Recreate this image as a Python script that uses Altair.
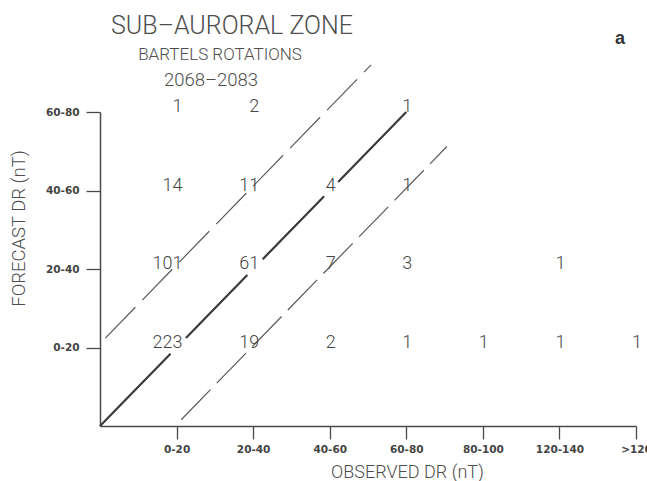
import json
import altair as alt
import pandas as pd

# ---- data ----
x_labels = ["0-20", "20-40", "40-60", "60-80", "80-100", "120-140", ">120"]
y_labels = ["0-20", "20-40", "40-60", "60-80"]

# counts: observed column index (1..7), forecast row index (1..4), count
cell_col = [1, 2, 4,
            1, 2, 3, 4,
            1, 2, 3, 4, 6,
            1, 2, 3, 4, 5, 6, 7]
cell_row = [4, 4, 4,
            3, 3, 3, 3,
            2, 2, 2, 2, 2,
            1, 1, 1, 1, 1, 1, 1]
cell_n = [1, 2, 1,
          14, 11, 4, 1,
          101, 61, 7, 3, 1,
          223, 19, 2, 1, 1, 1, 1]

# diagonal lines (in class-index units)
solid_x = [0, 4]
solid_y = [0, 4]
upper_x = [0.07, 3.54]
upper_y = [1.12, 4.60]
lower_x = [1.06, 4.53]
lower_y = [0.08, 3.56]

title_main = "SUB\u2013AURORAL ZONE"
subtitle_1 = "BARTELS ROTATIONS"
subtitle_2 = "2068\u20132083"
panel_letter = "a"

FONT = "Roboto"
INK = "#4a4a4a"
TXT = "#4d4d4d"

cells = pd.DataFrame({"col": cell_col, "row": cell_row, "n": cell_n})
solid = pd.DataFrame({"x": solid_x, "y": solid_y})
upper = pd.DataFrame({"x": upper_x, "y": upper_y})
lower = pd.DataFrame({"x": lower_x, "y": lower_y})
one = pd.DataFrame({"k": [0]})

xs = alt.Scale(domain=[0, 7], nice=False, zero=False)
ys = alt.Scale(domain=[0, 4], nice=False, zero=False)

x_expr = json.dumps(x_labels) + "[datum.value - 1]"
y_expr = json.dumps(y_labels) + "[datum.value - 1]"

x_axis = alt.Axis(
    values=list(range(1, 8)), labelExpr=x_expr, title="OBSERVED DR (nT)",
    grid=False, tickSize=13, tickWidth=1.3, tickColor=INK,
    domainColor=INK, domainWidth=1.5,
    labelFont="DejaVu Sans", labelFontSize=10.5, labelFontWeight="bold",
    labelColor="#444", labelPadding=5, labelFlush=False,
    titleFont=FONT, titleFontSize=18, titleFontWeight=300,
    titleColor=TXT, titleX=307, titleY=46, titleBaseline="middle",
    titleAlign="center",
)
y_axis = alt.Axis(
    values=[1, 2, 3, 4], labelExpr=y_expr, title="FORECAST DR (nT)",
    grid=False, tickSize=14, tickWidth=1.3, tickColor=INK,
    domainColor=INK, domainWidth=1.5,
    labelFont="DejaVu Sans", labelFontSize=10.5, labelFontWeight="bold",
    labelColor="#444", labelPadding=7, labelFlush=False,
    titleFont=FONT, titleFontSize=18.5, titleFontWeight=300,
    titleColor=TXT, titleX=-82, titleY=116, titleBaseline="middle",
    titleAngle=-90, titleAlign="center",
)

solid_line = alt.Chart(solid).mark_line(
    color="#3a3a3a", strokeWidth=2.2, clip=False,
    strokeDash=[101, 22, 88, 22, 88, 20, 200],
).encode(x=alt.X("x:Q", scale=xs, axis=x_axis),
         y=alt.Y("y:Q", scale=ys, axis=y_axis))

upper_line = alt.Chart(upper).mark_line(
    color="#5a5a5a", strokeWidth=1.2, clip=False, strokeDash=[43, 10],
).encode(x=alt.X("x:Q", scale=xs), y=alt.Y("y:Q", scale=ys))

lower_line = alt.Chart(lower).mark_line(
    color="#5a5a5a", strokeWidth=1.2, clip=False, strokeDash=[42, 9],
).encode(x=alt.X("x:Q", scale=xs), y=alt.Y("y:Q", scale=ys))

counts = alt.Chart(cells).mark_text(
    font=FONT, fontSize=18, fontWeight=300, color="#464646", align="right",
    baseline="middle", dx=6, dy=-5, clip=False,
).encode(
    x=alt.X("col:Q", scale=xs),
    y=alt.Y("row:Q", scale=ys),
    text="n:Q",
)


def label(txt, px, py, size, weight=300, font=FONT, color=TXT):
    return alt.Chart(one).mark_text(
        text=txt, font=font, fontSize=size, fontWeight=weight, color=color,
        align="center", baseline="alphabetic",
    ).encode(x=alt.value(px), y=alt.value(py))


t0 = label(title_main, 132, -78, 25)
t1 = label(subtitle_1, 120, -52, 17)
t2 = label(subtitle_2, 111, -26, 18.5)
panel = label(panel_letter, 520, -68, 18, weight="bold",
              font="Liberation Sans", color="#333")

chart = alt.layer(solid_line, upper_line, lower_line, counts,
                  t0, t1, t2, panel).properties(
    width=536,
    height=314,
    padding={"left": 100, "top": 112, "right": 11, "bottom": 55},
    autosize=alt.AutoSizeParams(type="none"),
    background="white",
).configure_view(stroke=None)

chart.save("out.html", embed_options={"renderer": "svg", "actions": False})
